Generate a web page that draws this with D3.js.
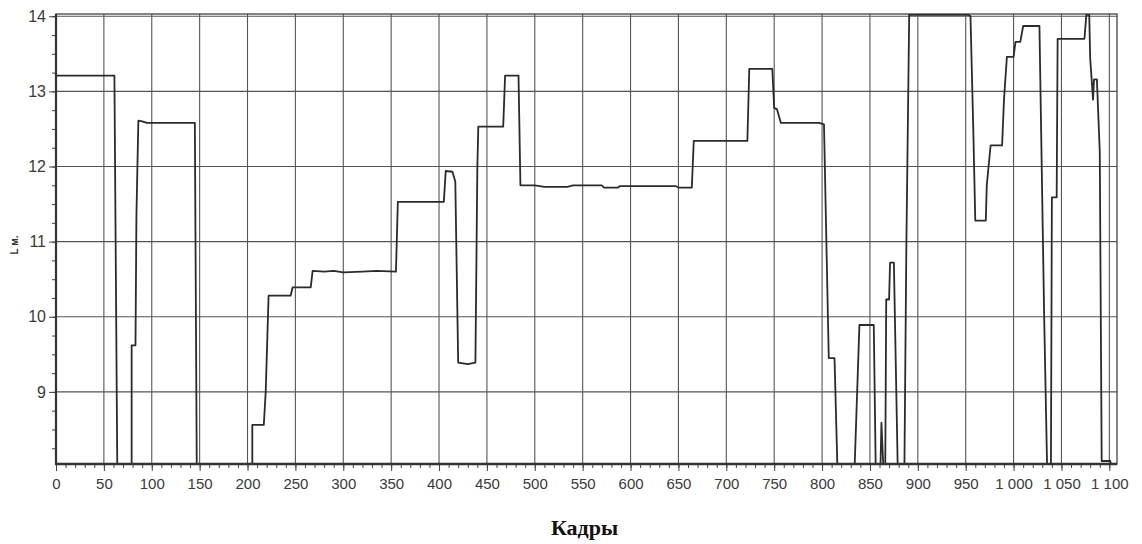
<!DOCTYPE html>
<html>
<head>
<meta charset="utf-8">
<script src="https://cdn.jsdelivr.net/npm/d3@7"></script>
<style>
  body { margin: 0; background: #fff; }
  svg { display: block; }
</style>
</head>
<body>
<svg class="chart" width="1142" height="544"></svg>
<script>
// frame numbers (x) and L values (y)
var frames = [0, 61, 64, 79, 79, 83, 84, 86, 90, 95, 145, 147, 205, 205, 217, 219, 222, 245, 247, 266,
  268, 280, 290, 300, 320, 335, 355, 357, 405, 407, 414, 417, 420, 430, 438, 440, 441, 467, 469, 483,
  485, 500, 510, 534, 540, 570, 572, 587, 589, 647, 650, 664, 666, 722, 724, 748, 750, 753, 757, 797,
  802, 807, 813, 816, 834, 839, 854, 856, 861, 862, 864, 866, 867, 870, 871, 875, 879, 886, 888, 891,
  953, 955, 958, 960, 971, 972, 976, 988, 990, 993, 1000, 1002, 1007, 1010, 1027, 1032, 1035, 1039, 1040, 1045,
  1046, 1074, 1076, 1079, 1080, 1083, 1084, 1087, 1090, 1092, 1093, 1101, 1102, 1108];
var lValues = [13.21, 13.21, 8, 8, 9.62, 9.62, 11.35, 12.61, 12.6, 12.58, 12.58, 8, 8, 8.56, 8.56, 9.0, 10.28, 10.28, 10.39, 10.39,
  10.61, 10.6, 10.61, 10.59, 10.6, 10.61, 10.6, 11.53, 11.53, 11.94, 11.93, 11.8, 9.39, 9.37, 9.39, 11.97, 12.53, 12.53, 13.21, 13.21,
  11.75, 11.75, 11.73, 11.73, 11.75, 11.75, 11.72, 11.72, 11.74, 11.74, 11.72, 11.72, 12.34, 12.34, 13.30, 13.30, 12.78, 12.76, 12.58, 12.58,
  12.56, 9.45, 9.45, 8, 8, 9.89, 9.89, 8, 8, 8.59, 8, 8, 10.23, 10.23, 10.72, 10.72, 8, 8, 10.91, 14.02,
  14.02, 14.0, 12.45, 11.28, 11.28, 11.75, 12.28, 12.28, 12.89, 13.46, 13.46, 13.66, 13.66, 13.87, 13.87, 9.96, 8, 8, 11.59, 11.59,
  13.70, 13.70, 14.02, 14.02, 13.44, 12.89, 13.16, 13.16, 12.2, 8.08, 8.08, 8.08, 8, 8];

var xTicks = d3.range(0, 1101, 50);
var yTicks = [9, 10, 11, 12, 13, 14];

var data = frames.map(function(f, i) { return {frame: f, l: lValues[i]}; });

var svg = d3.select("svg.chart");
var pLeft = 56, pRight = 1117, pTop = 14, pBottom = 464;

var x = d3.scaleLinear().domain([0, 1108]).range([pLeft, pRight]);
var y = d3.scaleLinear().domain([8.04, 14.03]).range([pBottom, pTop]);

var fmt = function(d) { return d >= 1000 ? d3.format(",")(d).replace(",", "\u00a0") : String(d); };

// grid
var grid = svg.append("g").attr("stroke", "#555").attr("stroke-width", 1.1);
grid.selectAll("line.v").data(xTicks).enter().append("line")
    .attr("x1", function(d) { return x(d); }).attr("x2", function(d) { return x(d); })
    .attr("y1", pTop).attr("y2", pBottom);
grid.selectAll("line.h").data(yTicks).enter().append("line")
    .attr("y1", function(d) { return y(d); }).attr("y2", function(d) { return y(d); })
    .attr("x1", pLeft).attr("x2", pRight);

// frame (top/right thin)
svg.append("rect").attr("x", pLeft).attr("y", pTop)
    .attr("width", pRight - pLeft).attr("height", pBottom - pTop)
    .attr("fill", "none").attr("stroke", "#444").attr("stroke-width", 1.3);

// trace
svg.append("clipPath").attr("id", "clip").append("rect")
    .attr("x", pLeft).attr("y", pTop).attr("width", pRight - pLeft).attr("height", pBottom - pTop);

var line = d3.line()
    .x(function(d) { return x(d.frame); })
    .y(function(d) { return y(d.l); });

svg.append("path")
    .datum(data)
    .attr("clip-path", "url(#clip)")
    .attr("fill", "none")
    .attr("stroke", "#2b2b2b")
    .attr("stroke-width", 1.8)
    .attr("stroke-linejoin", "round")
    .attr("d", line);

// x axis
var xAxis = svg.append("g").attr("transform", "translate(0," + pBottom + ")");
xAxis.call(d3.axisBottom(x).tickValues(d3.range(0, 1101, 10)).tickSize(4).tickFormat(""));
xAxis.append("g").call(d3.axisBottom(x).tickValues(xTicks).tickSize(7).tickFormat(fmt));
xAxis.selectAll(".domain").remove();
xAxis.selectAll("line").attr("stroke", "#444");
xAxis.selectAll("text").attr("fill", "#3a3a3a").attr("font-size", 15)
    .attr("font-family", "Liberation Sans, Arial, sans-serif").attr("dy", "1.0em");

// y axis
var yAxis = svg.append("g").attr("transform", "translate(" + pLeft + ",0)");
yAxis.call(d3.axisLeft(y).tickValues(d3.range(8.25, 14.01, 0.25)).tickSize(4).tickFormat(""));
yAxis.append("g").call(d3.axisLeft(y).tickValues(yTicks).tickSize(7).tickFormat(d3.format("d")));
yAxis.selectAll(".domain").remove();
yAxis.selectAll("line").attr("stroke", "#444");
yAxis.selectAll("text").attr("fill", "#3a3a3a").attr("font-size", 16)
    .attr("font-family", "Liberation Sans, Arial, sans-serif").attr("x", -10);

// heavy left and bottom axis lines
svg.append("line").attr("x1", pLeft).attr("x2", pLeft).attr("y1", pTop).attr("y2", pBottom + 1)
    .attr("stroke", "#333").attr("stroke-width", 2.2);
svg.append("line").attr("x1", pLeft - 1).attr("x2", pRight).attr("y1", pBottom).attr("y2", pBottom)
    .attr("stroke", "#333").attr("stroke-width", 2.6);

// labels
svg.append("text")
    .attr("transform", "translate(18,245) rotate(-90)")
    .attr("text-anchor", "middle")
    .attr("font-family", "Liberation Sans, Arial, sans-serif")
    .attr("font-size", 10).attr("font-weight", "bold").attr("fill", "#333")
    .text("L м.");

svg.append("text")
    .attr("x", (pLeft + pRight) / 2 - 2).attr("y", 535)
    .attr("text-anchor", "middle")
    .attr("font-family", "Liberation Serif, Times New Roman, serif")
    .attr("font-size", 22).attr("font-weight", "bold").attr("fill", "#111")
    .text("Кадры");
</script>
</body>
</html>
